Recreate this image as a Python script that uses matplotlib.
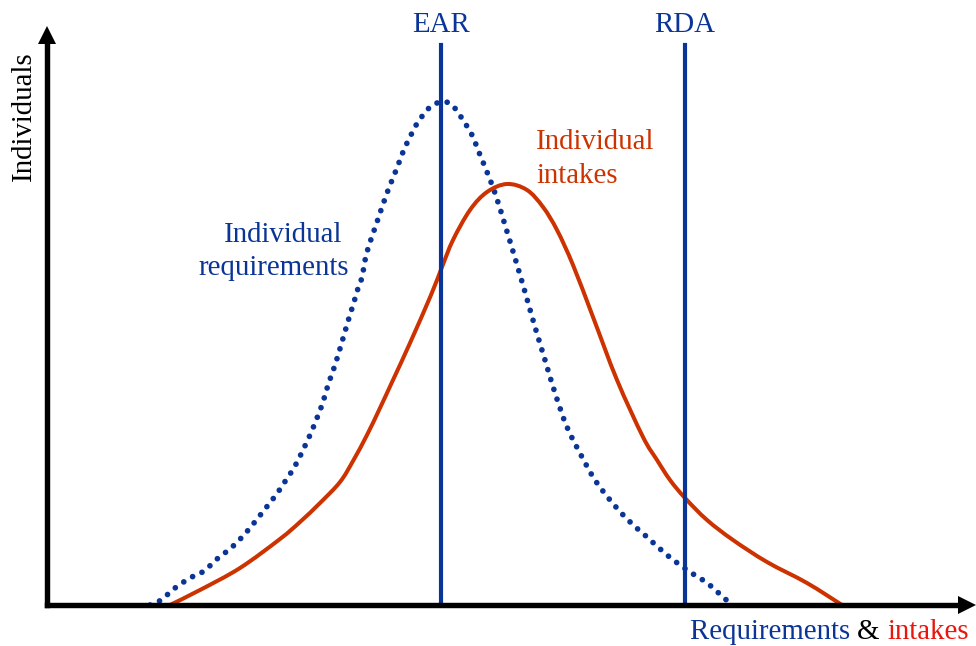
import numpy as np
import matplotlib
matplotlib.use("Agg")
import matplotlib.pyplot as plt
from matplotlib.path import Path
from matplotlib.patches import PathPatch

plt.rcParams['font.family'] = ['Liberation Serif', 'DejaVu Serif']

BLUE = '#0a3597'
RED = '#cc3300'
BRIGHT_RED = '#e8160c'

# requirement distribution (dotted)
req_x = [103, 114, 128, 143, 157, 170, 184, 196, 207, 218,
         229, 239, 248, 256, 263, 270, 276, 281, 287, 292,
         297, 302, 307, 312, 315, 320, 330, 340, 350, 356,
         363, 371, 382, 390, 399, 406, 416, 425, 431, 438,
         448, 458, 468, 478, 488, 498, 508, 520, 535, 548,
         563, 581, 600, 620, 640, 660, 676, 685]
req_y = [0, 5, 17, 27, 34, 46, 57, 69, 82, 96,
         110, 125, 139, 155, 170, 187, 203, 220, 237, 253,
         270, 287, 303, 320, 328, 353, 383, 412, 437, 453,
         468, 483, 497, 502, 503, 499, 485, 470, 455, 438,
         412, 380, 347, 313, 278, 245, 212, 178, 148, 125,
         105, 85, 68, 50, 35, 22, 8, 0]

# intake distribution (solid)
int_x = [123, 153, 193, 233, 253, 273, 293, 306, 320, 333,
         346, 363, 384, 395, 406, 423, 440, 460, 480, 496,
         510, 526, 546, 570, 596, 610, 623, 638, 660, 686,
         720, 760, 795]
int_y = [0, 15, 37, 66, 83, 102, 123, 144, 170, 197,
         225, 262, 310, 338, 365, 395, 413, 421, 415, 398,
         375, 340, 288, 225, 168, 145, 125, 107, 85, 65,
         43, 22, 0]

ear_x = 394
rda_x = 638
ref_top = 560
x_end = 928
y_end = 578


def smooth_path(xs, ys):
    # bezier segments through every point (catmull-rom tangents)
    p = np.column_stack([xs, ys]).astype(float)
    n = len(p)
    verts = [p[0]]
    codes = [Path.MOVETO]
    for i in range(n - 1):
        p0 = p[max(i - 1, 0)]
        p1 = p[i]
        p2 = p[i + 1]
        p3 = p[min(i + 2, n - 1)]
        verts += [p1 + (p2 - p0) / 6, p2 - (p3 - p1) / 6, p2]
        codes += [Path.CURVE4] * 3
    return Path(verts, codes)


W, H = 976, 646
fig = plt.figure(figsize=(W / 100, H / 100), dpi=100)
ax = fig.add_axes([47 / W, 41 / H, 929 / W, 605 / H])
ax.set_xlim(0, 929)
ax.set_ylim(0, 605)
ax.axis('off')

ax.add_patch(PathPatch(smooth_path(req_x, req_y), fill=False, edgecolor=BLUE,
                       lw=4.1, linestyle=(0, (0.01, 1.8)), capstyle='round',
                       clip_on=False))
ax.add_patch(PathPatch(smooth_path(int_x, int_y), fill=False, edgecolor=RED,
                       lw=2.9, capstyle='butt', clip_on=False))
ax.plot([ear_x, ear_x], [0, ref_top], color=BLUE, lw=3.0, clip_on=False)
ax.plot([rda_x, rda_x], [0, ref_top], color=BLUE, lw=3.0, clip_on=False)

# axes with arrow heads
ax.plot([0, x_end - 10], [0, 0], color='black', lw=3.9,
        solid_capstyle='projecting', clip_on=False)
ax.plot([0, 0], [0, y_end - 10], color='black', lw=3.9,
        solid_capstyle='projecting', clip_on=False)
ax.plot([x_end - 8], [0], marker='>', ms=13, color='black', mew=0, clip_on=False)
ax.plot([0], [y_end - 8], marker='^', ms=13, color='black', mew=0, clip_on=False)

fs = 20.8


def ftext(px, py, s, **kw):
    return fig.text(px / W, 1 - py / H, s, fontsize=fs, **kw)


ftext(24, 116, 'Individuals', rotation=90, ha='center', va='center', color='black')
ftext(441, 32, 'EAR', ha='center', va='baseline', color=BLUE)
ftext(685, 32, 'RDA', ha='center', va='baseline', color=BLUE)
ftext(224, 242, 'Individual', ha='left', va='baseline', color=BLUE)
ftext(198, 275, 'requirements', ha='left', va='baseline', color=BLUE)
ftext(536, 149, 'Individual', ha='left', va='baseline', color=RED)
ftext(536, 183, 'intakes', ha='left', va='baseline', color=RED)

# x label in three colours
r = fig.canvas.get_renderer()
x0 = 690
for s, c in [('Requirements ', BLUE), ('& ', 'black'), ('intakes', BRIGHT_RED)]:
    t = ftext(x0, 639, s, ha='left', va='baseline', color=c)
    bb = t.get_window_extent(r)
    x0 = bb.x1

fig.savefig('out.png', dpi=100)
